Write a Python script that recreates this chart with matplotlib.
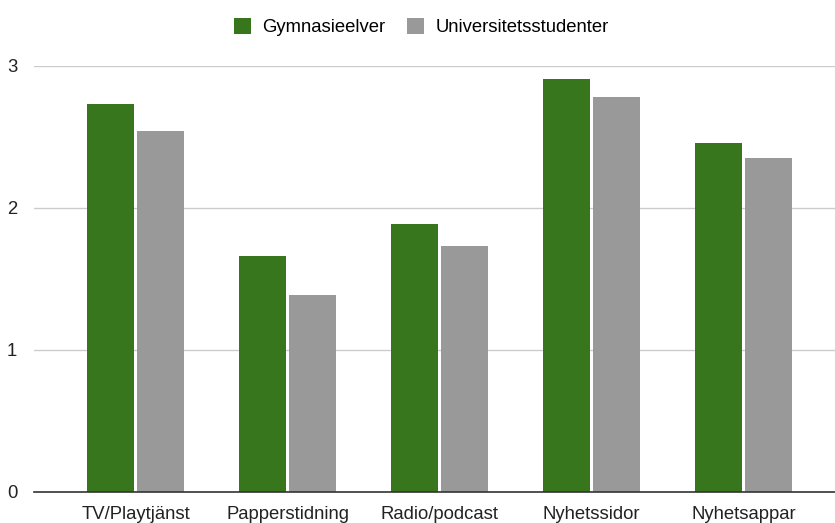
import matplotlib
matplotlib.use("Agg")
import matplotlib.pyplot as plt
import numpy as np

categories = ["TV/Playtjänst", "Papperstidning", "Radio/podcast", "Nyhetssidor", "Nyhetsappar"]
gymnasieelver = [2.73, 1.66, 1.89, 2.91, 2.46]
universitetsstudenter = [2.54, 1.39, 1.73, 2.78, 2.35]
series_names = ["Gymnasieelver", "Universitetsstudenter"]
yticks = [0, 1, 2, 3]

plt.rcParams["font.family"] = ["Liberation Sans", "DejaVu Sans"]

fig = plt.figure(figsize=(8.35, 5.23), dpi=100)
ax = fig.add_axes([34 / 835, 31 / 523, 801 / 835, 426 / 523])

x = np.arange(len(categories))
w = 0.309
off = 0.164
ax.bar(x - off, gymnasieelver, width=w, color="#38761d", label=series_names[0], zorder=3)
ax.bar(x + off, universitetsstudenter, width=w, color="#999999", label=series_names[1], zorder=3)

ax.set_xlim(-0.668, 4.60)
ax.set_ylim(0, 3)
ax.set_yticks(yticks)
ax.set_yticklabels([str(t) for t in yticks])
ax.set_xticks(x)
ax.set_xticklabels(categories)
ax.tick_params(axis="both", length=0, labelsize=13.3, colors="#222222")
ax.tick_params(axis="y", pad=12)
ax.tick_params(axis="x", pad=10)
for lab in ax.get_yticklabels():
    lab.set_horizontalalignment("right")

ax.grid(axis="y", color="#cccccc", linewidth=1, zorder=0)
ax.set_axisbelow(True)
for s in ["top", "right", "left"]:
    ax.spines[s].set_visible(False)
ax.spines["bottom"].set_color("#333333")
ax.spines["bottom"].set_linewidth(1.2)
ax.spines["bottom"].set_zorder(4)

fig.legend(loc="center", bbox_to_anchor=(421 / 835, 1 - 27 / 523), ncol=2, frameon=False,
           fontsize=13.3, handlelength=0.95, handleheight=0.95, handletextpad=0.6, columnspacing=1.15)

fig.savefig("out.png", dpi=100)
